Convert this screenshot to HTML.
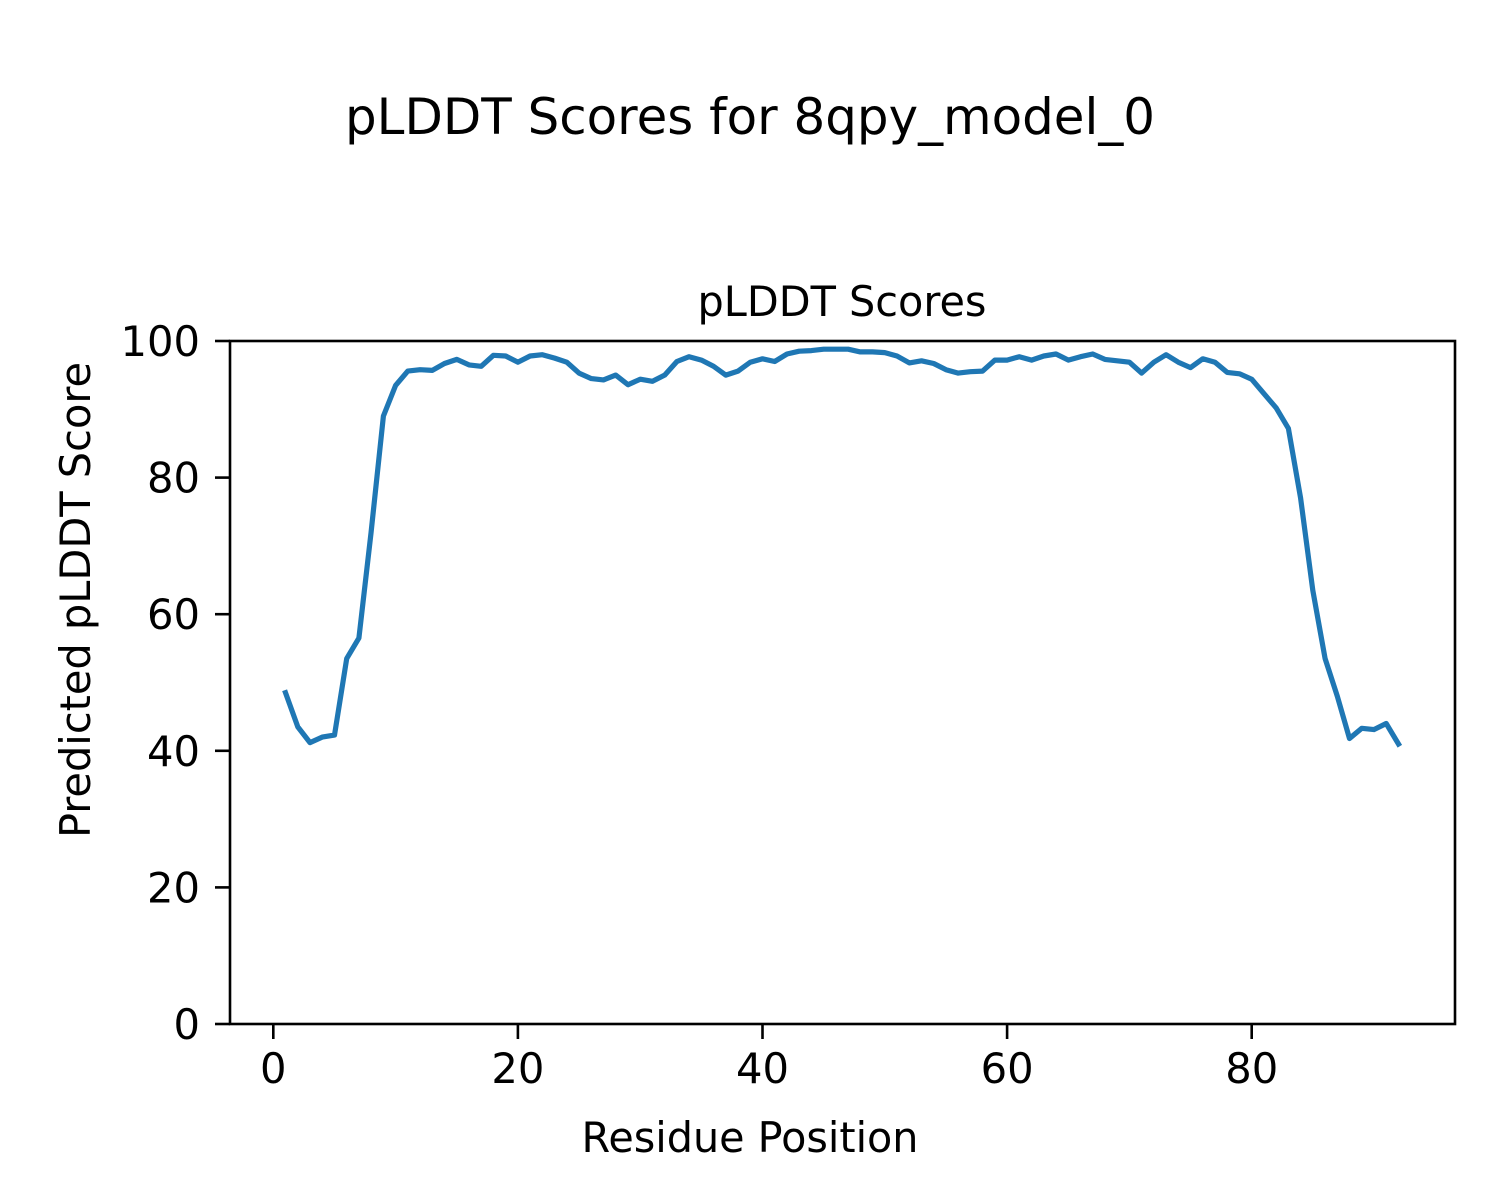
<!DOCTYPE html>
<html><head><meta charset="utf-8"><style>html,body{margin:0;padding:0;background:#fff}svg{display:block}</style></head>
<body>
<svg width="1500" height="1200" viewBox="0 0 1500 1200" xmlns="http://www.w3.org/2000/svg" font-family="DejaVu Sans, Liberation Sans, sans-serif">
<rect width="1500" height="1200" fill="#fff"/>
<text x="750" y="134" font-size="50" text-anchor="middle" textLength="810" lengthAdjust="spacingAndGlyphs">pLDDT Scores for 8qpy_model_0</text>
<text x="842" y="316" font-size="41.67" text-anchor="middle" textLength="289" lengthAdjust="spacingAndGlyphs">pLDDT Scores</text>
<polyline id="ln" fill="none" stroke="#1f77b4" stroke-width="5.2" stroke-linejoin="round" stroke-linecap="square" points=""/>
<rect x="230" y="341" width="1225" height="683" fill="none" stroke="#000" stroke-width="2.6"/>
<g stroke="#000" stroke-width="2.6" id="ticks"></g>
<g font-size="41.67" id="labels"></g>
<text x="750" y="1152" font-size="41.67" text-anchor="middle" textLength="337" lengthAdjust="spacingAndGlyphs">Residue Position</text>
<text transform="translate(90,600) rotate(-90)" font-size="41.67" text-anchor="middle" textLength="476" lengthAdjust="spacingAndGlyphs">Predicted pLDDT Score</text>
</svg>
<script>
var v=[48.5,43.5,41.2,42,42.3,53.5,56.5,72,89,93.5,95.6,95.8,95.7,96.7,97.3,96.5,96.3,97.9,97.8,96.9,97.8,98,97.5,96.9,95.3,94.5,94.3,95,93.6,94.4,94.1,95,97,97.7,97.2,96.3,95,95.6,96.9,97.4,97,98.1,98.5,98.6,98.8,98.8,98.8,98.4,98.4,98.3,97.8,96.8,97.1,96.7,95.8,95.3,95.5,95.6,97.2,97.2,97.7,97.2,97.8,98.1,97.2,97.7,98.1,97.3,97.1,96.9,95.3,96.9,98,96.9,96.1,97.4,96.9,95.4,95.2,94.4,92.3,90.2,87.2,77,63.5,53.5,48,41.8,43.3,43.1,44,41];
var p=v.map(function(y,i){return (273.3+12.23*(i+1)).toFixed(1)+","+(1024-6.83*y).toFixed(1)}).join(" ");
document.getElementById("ln").setAttribute("points",p);
var NS="http://www.w3.org/2000/svg",t=document.getElementById("ticks"),l=document.getElementById("labels");
function el(g,n,a,tx){var e=document.createElementNS(NS,n);for(var k in a)e.setAttribute(k,a[k]);if(tx!=null)e.textContent=tx;g.appendChild(e);}
for(var i=0;i<=80;i+=20){var x=273.3+12.23*i;el(t,"line",{x1:x,x2:x,y1:1024,y2:1039});el(l,"text",{x:x,y:1083,"text-anchor":"middle"},String(i));}
for(var j=0;j<=100;j+=20){var y=1024-6.83*j;el(t,"line",{x1:215,x2:230,y1:y,y2:y});el(l,"text",{x:200,y:y+15,"text-anchor":"end"},String(j));}
</script>
</body></html>
